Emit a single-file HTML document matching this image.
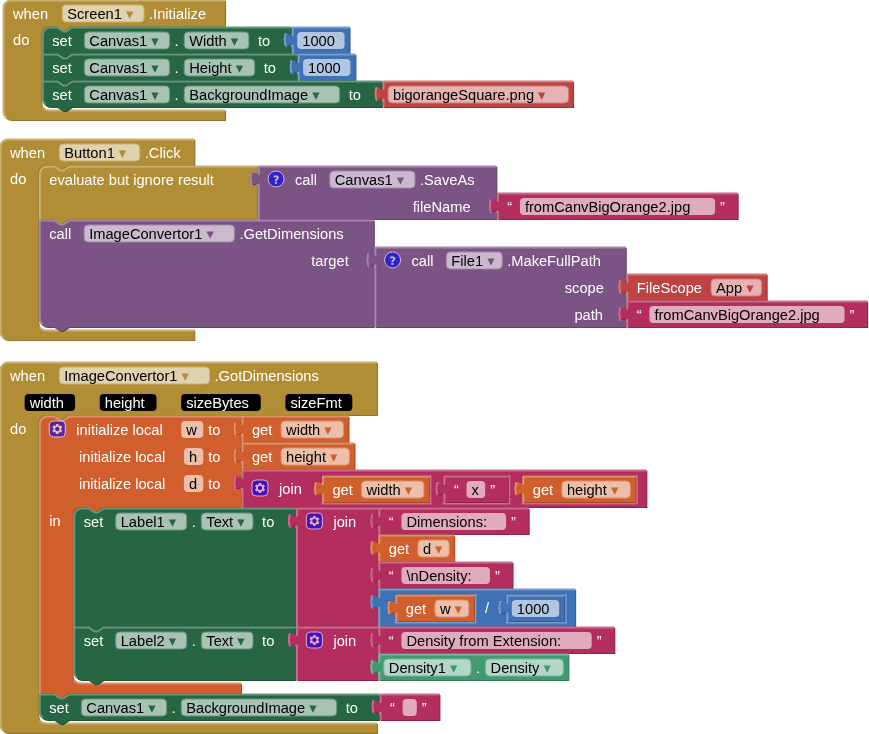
<!DOCTYPE html>
<html lang="en"><head><meta charset="utf-8"><title>Blocks</title>
<style>
html,body{margin:0;padding:0;background:#fff;}
svg{display:block;font-family:"Liberation Sans","DejaVu Sans",sans-serif;font-size:11pt;}
.h{fill:none;stroke-width:2;stroke-linecap:round;}
.t{fill:#fff;dominant-baseline:central;white-space:pre;}
.e{fill:#000;dominant-baseline:central;white-space:pre;}
.r{fill:#fff;fill-opacity:.6;}
.p{fill:#000;}
.ic{opacity:.6;}
.is{fill:#00f;stroke:#fff;stroke-width:1px;}
.iy{fill:#fff;}
</style></head>
<body>
<svg width="869" height="734" viewBox="0 0 869 734">
<g transform="translate(3,0)">
<path class="d" fill="#8e722a" transform="translate(1,1)" d="M 0,8 A 8,8 0 0,1 8,0 H 222.094 V 22 V 26 H 68.283 l -6,4 -3,0 -6,-4 h -7 a 8,8 0 0,0 -8,8 v 68 a 8,8 0 0,0 8,8 H 222.094 V 120 H 8 a 8,8 0 0,1 -8,-8 z "/>
<path fill="#b18e35" d="M 0,8 A 8,8 0 0,1 8,0 H 222.094 V 22 V 26 H 68.283 l -6,4 -3,0 -6,-4 h -7 a 8,8 0 0,0 -8,8 v 68 a 8,8 0 0,0 8,8 H 222.094 V 120 H 8 a 8,8 0 0,1 -8,-8 z "/>
<path class="h" stroke="#c8b072" d="M 0.5,8 a 7.5,7.5 0 0,1 8,-7.5 H 221.594 M 40.273,108.01 a 8.5,8.5 0 0,0 6.01,2.49 H 221.594 M 2.697,117.303 a 7.5,7.5 0 0,1 -2.197,-5.303 V 8 "/>
<text class="t" x="10" y="13.5">when </text>
<rect class="r" stroke="#c8b072" x="59.272" y="5" width="81.779" height="17" rx="4" ry="4"/>
<text class="e" x="64.272" y="13.5">Screen1<tspan fill="#b18e35"> ▾</tspan></text>
<text class="t" x="146.051" y="13.5">.Initialize</text>
<text class="t" x="10" y="39.5">do</text>
<g transform="translate(39.283,27)">
<path class="d" fill="#1e5236" transform="translate(1,1)" d="M 0,8 A 8,8 0 0,1 8,0 H 15 l 6,4 3,0 6,-4 H 248.949 V 5 l -1.25,3.211 -2.75,-1.523 -2.75,-0.492 -1.25,6.305 1.25,6.305 2.75,-0.492 2.75,-1.523 1.25,3.211 v 2 V 26 H 29.5 l -6,4 -3,0 -6,-4 H 0 z "/>
<path fill="#266643" d="M 0,8 A 8,8 0 0,1 8,0 H 15 l 6,4 3,0 6,-4 H 248.949 V 5 l -1.25,3.211 -2.75,-1.523 -2.75,-0.492 -1.25,6.305 1.25,6.305 2.75,-0.492 2.75,-1.523 1.25,3.211 v 2 V 26 H 29.5 l -6,4 -3,0 -6,-4 H 0 z "/>
<path class="h" stroke="#67947b" d="M 0.5,8 a 7.5,7.5 0 0,1 8,-7.5 H 15 l 6,4 3,0 6,-4 H 248.449 M 243.949,19.3 l 3.68,-2.1 M 0.5,25.5 V 8 "/>
<text class="t" x="10" y="13.5">set </text>
<rect class="r" stroke="#67947b" x="42.077" y="5" width="85.188" height="17" rx="4" ry="4"/>
<text class="e" x="47.077" y="13.5">Canvas1<tspan fill="#266643"> ▾</tspan></text>
<text class="t" x="132.266" y="13.5">.</text>
<rect class="r" stroke="#67947b" x="141.928" y="5" width="64.635" height="17" rx="4" ry="4"/>
<text class="e" x="146.928" y="13.5">Width<tspan fill="#266643"> ▾</tspan></text>
<text class="t" x="211.562" y="13.5"> to</text>
<g transform="translate(249.949,0)">
<path class="d" fill="#325a91" transform="translate(1,1)" d="M 0,0 H 57.326 V 22 V 26 H 0 V 20 l -1.25,-3.211 -2.75,1.523 -2.75,0.492 -1.25,-6.305 1.25,-6.305 2.75,0.492 2.75,1.523 1.25,-3.211 z "/>
<path fill="#3f71b5" d="M 0,0 H 57.326 V 22 V 26 H 0 V 20 l -1.25,-3.211 -2.75,1.523 -2.75,0.492 -1.25,-6.305 1.25,-6.305 2.75,0.492 2.75,1.523 1.25,-3.211 z "/>
<path class="h" stroke="#799ccb" d="M 0.5,0.5 H 56.826 M 0.5,25.5 V 20 v -1.5 m -7.36,-0.5 l -0.76,-5.5 0.76,-5.5 m 7.36,1 V 0.5 "/>
<rect class="r" x="5" y="5" width="47.326" height="17" rx="4" ry="4"/>
<text class="e" x="10" y="13.5">1000</text>
</g>
<g transform="translate(0,27)">
<path class="d" fill="#1e5236" transform="translate(1,1)" d="M 0,0 H 15 l 6,4 3,0 6,-4 H 254.821 V 5 l -1.25,3.211 -2.75,-1.523 -2.75,-0.492 -1.25,6.305 1.25,6.305 2.75,-0.492 2.75,-1.523 1.25,3.211 v 2 V 26 H 29.5 l -6,4 -3,0 -6,-4 H 0 z "/>
<path fill="#266643" d="M 0,0 H 15 l 6,4 3,0 6,-4 H 254.821 V 5 l -1.25,3.211 -2.75,-1.523 -2.75,-0.492 -1.25,6.305 1.25,6.305 2.75,-0.492 2.75,-1.523 1.25,3.211 v 2 V 26 H 29.5 l -6,4 -3,0 -6,-4 H 0 z "/>
<path class="h" stroke="#67947b" d="M 0.5,0.5 H 15 l 6,4 3,0 6,-4 H 254.321 M 249.821,19.3 l 3.68,-2.1 M 0.5,25.5 V 0.5 "/>
<text class="t" x="10" y="13.5">set </text>
<rect class="r" stroke="#67947b" x="42.077" y="5" width="85.188" height="17" rx="4" ry="4"/>
<text class="e" x="47.077" y="13.5">Canvas1<tspan fill="#266643"> ▾</tspan></text>
<text class="t" x="132.266" y="13.5">.</text>
<rect class="r" stroke="#67947b" x="141.928" y="5" width="70.507" height="17" rx="4" ry="4"/>
<text class="e" x="146.928" y="13.5">Height<tspan fill="#266643"> ▾</tspan></text>
<text class="t" x="217.435" y="13.5"> to</text>
<g transform="translate(255.821,0)">
<path class="d" fill="#325a91" transform="translate(1,1)" d="M 0,0 H 57.326 V 22 V 26 H 0 V 20 l -1.25,-3.211 -2.75,1.523 -2.75,0.492 -1.25,-6.305 1.25,-6.305 2.75,0.492 2.75,1.523 1.25,-3.211 z "/>
<path fill="#3f71b5" d="M 0,0 H 57.326 V 22 V 26 H 0 V 20 l -1.25,-3.211 -2.75,1.523 -2.75,0.492 -1.25,-6.305 1.25,-6.305 2.75,0.492 2.75,1.523 1.25,-3.211 z "/>
<path class="h" stroke="#799ccb" d="M 0.5,0.5 H 56.826 M 0.5,25.5 V 20 v -1.5 m -7.36,-0.5 l -0.76,-5.5 0.76,-5.5 m 7.36,1 V 0.5 "/>
<rect class="r" x="5" y="5" width="47.326" height="17" rx="4" ry="4"/>
<text class="e" x="10" y="13.5">1000</text>
</g>
<g transform="translate(0,27)">
<path class="d" fill="#1e5236" transform="translate(1,1)" d="M 0,0 H 15 l 6,4 3,0 6,-4 H 339.77 V 5 l -1.25,3.211 -2.75,-1.523 -2.75,-0.492 -1.25,6.305 1.25,6.305 2.75,-0.492 2.75,-1.523 1.25,3.211 v 2 V 26 H 29.5 l -6,4 -3,0 -6,-4 H 8 a 8,8 0 0,1 -8,-8 z "/>
<path fill="#266643" d="M 0,0 H 15 l 6,4 3,0 6,-4 H 339.77 V 5 l -1.25,3.211 -2.75,-1.523 -2.75,-0.492 -1.25,6.305 1.25,6.305 2.75,-0.492 2.75,-1.523 1.25,3.211 v 2 V 26 H 29.5 l -6,4 -3,0 -6,-4 H 8 a 8,8 0 0,1 -8,-8 z "/>
<path class="h" stroke="#67947b" d="M 0.5,0.5 H 15 l 6,4 3,0 6,-4 H 339.27 M 334.77,19.3 l 3.68,-2.1 M 2.697,23.303 a 7.5,7.5 0 0,1 -2.197,-5.303 V 0.5 "/>
<text class="t" x="10" y="13.5">set </text>
<rect class="r" stroke="#67947b" x="42.077" y="5" width="85.188" height="17" rx="4" ry="4"/>
<text class="e" x="47.077" y="13.5">Canvas1<tspan fill="#266643"> ▾</tspan></text>
<text class="t" x="132.266" y="13.5">.</text>
<rect class="r" stroke="#67947b" x="141.928" y="5" width="155.456" height="17" rx="4" ry="4"/>
<text class="e" x="146.928" y="13.5">BackgroundImage<tspan fill="#266643"> ▾</tspan></text>
<text class="t" x="302.384" y="13.5"> to</text>
<g transform="translate(340.77,0)">
<path class="d" fill="#993636" transform="translate(1,1)" d="M 0,0 H 190.05 V 22 V 26 H 0 V 20 l -1.25,-3.211 -2.75,1.523 -2.75,0.492 -1.25,-6.305 1.25,-6.305 2.75,0.492 2.75,1.523 1.25,-3.211 z "/>
<path fill="#bf4343" d="M 0,0 H 190.05 V 22 V 26 H 0 V 20 l -1.25,-3.211 -2.75,1.523 -2.75,0.492 -1.25,-6.305 1.25,-6.305 2.75,0.492 2.75,1.523 1.25,-3.211 z "/>
<path class="h" stroke="#d27b7b" d="M 0.5,0.5 H 189.55 M 0.5,25.5 V 20 v -1.5 m -7.36,-0.5 l -0.76,-5.5 0.76,-5.5 m 7.36,1 V 0.5 "/>
<rect class="r" stroke="#d27b7b" x="5" y="5" width="180.45" height="17" rx="4" ry="4"/>
<text class="e" x="10" y="13.5">bigorangeSquare.png<tspan fill="#bf4343"> ▾</tspan></text>
</g>
</g>
</g>
</g>
</g>
<g transform="translate(0,139)">
<path class="d" fill="#8e722a" transform="translate(1,1)" d="M 0,8 A 8,8 0 0,1 8,0 H 194.365 V 22 V 26 H 68.283 l -6,4 -3,0 -6,-4 h -7 a 8,8 0 0,0 -8,8 v 149 a 8,8 0 0,0 8,8 H 194.365 V 201 H 8 a 8,8 0 0,1 -8,-8 z "/>
<path fill="#b18e35" d="M 0,8 A 8,8 0 0,1 8,0 H 194.365 V 22 V 26 H 68.283 l -6,4 -3,0 -6,-4 h -7 a 8,8 0 0,0 -8,8 v 149 a 8,8 0 0,0 8,8 H 194.365 V 201 H 8 a 8,8 0 0,1 -8,-8 z "/>
<path class="h" stroke="#c8b072" d="M 0.5,8 a 7.5,7.5 0 0,1 8,-7.5 H 193.865 M 40.273,189.01 a 8.5,8.5 0 0,0 6.01,2.49 H 193.865 M 2.697,198.303 a 7.5,7.5 0 0,1 -2.197,-5.303 V 8 "/>
<text class="t" x="10" y="13.5">when </text>
<rect class="r" stroke="#c8b072" x="59.272" y="5" width="80.483" height="17" rx="4" ry="4"/>
<text class="e" x="64.272" y="13.5">Button1<tspan fill="#b18e35"> ▾</tspan></text>
<text class="t" x="144.755" y="13.5">.Click</text>
<text class="t" x="10" y="39.5">do</text>
<g transform="translate(39.283,27)">
<path class="d" fill="#8e722a" transform="translate(1,1)" d="M 0,8 A 8,8 0 0,1 8,0 H 15 l 6,4 3,0 6,-4 H 218.044 V 5 l -1.25,3.211 -2.75,-1.523 -2.75,-0.492 -1.25,6.305 1.25,6.305 2.75,-0.492 2.75,-1.523 1.25,3.211 v 29 V 53 H 29.5 l -6,4 -3,0 -6,-4 H 0 z "/>
<path fill="#b18e35" d="M 0,8 A 8,8 0 0,1 8,0 H 15 l 6,4 3,0 6,-4 H 218.044 V 5 l -1.25,3.211 -2.75,-1.523 -2.75,-0.492 -1.25,6.305 1.25,6.305 2.75,-0.492 2.75,-1.523 1.25,3.211 v 29 V 53 H 29.5 l -6,4 -3,0 -6,-4 H 0 z "/>
<path class="h" stroke="#c8b072" d="M 0.5,8 a 7.5,7.5 0 0,1 8,-7.5 H 15 l 6,4 3,0 6,-4 H 217.544 M 213.044,19.3 l 3.68,-2.1 M 0.5,52.5 V 8 "/>
<text class="t" x="10" y="13.5">evaluate but ignore result</text>
<g transform="translate(219.044,0)">
<path class="d" fill="#63426a" transform="translate(1,1)" d="M 0,0 H 237.989 V 22 V 32 l -1.25,3.211 -2.75,-1.523 -2.75,-0.492 -1.25,6.305 1.25,6.305 2.75,-0.492 2.75,-1.523 1.25,3.211 v 2 V 53 H 0 V 20 l -1.25,-3.211 -2.75,1.523 -2.75,0.492 -1.25,-6.305 1.25,-6.305 2.75,0.492 2.75,1.523 1.25,-3.211 z "/>
<path fill="#7c5385" d="M 0,0 H 237.989 V 22 V 32 l -1.25,3.211 -2.75,-1.523 -2.75,-0.492 -1.25,6.305 1.25,6.305 2.75,-0.492 2.75,-1.523 1.25,3.211 v 2 V 53 H 0 V 20 l -1.25,-3.211 -2.75,1.523 -2.75,0.492 -1.25,-6.305 1.25,-6.305 2.75,0.492 2.75,1.523 1.25,-3.211 z "/>
<path class="h" stroke="#a387aa" d="M 0.5,0.5 H 237.489 M 232.989,46.3 l 3.68,-2.1 M 0.5,52.5 V 20 v -1.5 m -7.36,-0.5 l -0.76,-5.5 0.76,-5.5 m 7.36,1 V 0.5 "/>
<g class="ic" transform="translate(9.75,5)">
<circle class="is" r="8" cx="8" cy="8"/><path class="iy" d="m6.8,10h2c0.003,-0.617 0.271,-0.962 0.633,-1.266 2.875,-2.405 0.607,-5.534 -3.765,-3.874v1.7c3.12,-1.657 3.698,0.118 2.336,1.25 -1.201,0.998 -1.201,1.528 -1.204,2.19z"/><rect class="iy" x="6.8" y="10.78" width="2" height="2"/>
</g>
<text class="t" x="36.6" y="13.5">call </text>
<rect class="r" stroke="#a387aa" x="71.463" y="5" width="85.188" height="17" rx="4" ry="4"/>
<text class="e" x="76.463" y="13.5">Canvas1<tspan fill="#7c5385"> ▾</tspan></text>
<text class="t" x="161.651" y="13.5">.SaveAs</text>
<text class="t" x="154.383" y="40.5">fileName</text>
<g transform="translate(238.989,27)">
<path class="d" fill="#8f244b" transform="translate(1,1)" d="M 0,0 H 240.357 V 22 V 26 H 0 V 20 l -1.25,-3.211 -2.75,1.523 -2.75,0.492 -1.25,-6.305 1.25,-6.305 2.75,0.492 2.75,1.523 1.25,-3.211 z "/>
<path fill="#b32d5e" d="M 0,0 H 240.357 V 22 V 26 H 0 V 20 l -1.25,-3.211 -2.75,1.523 -2.75,0.492 -1.25,-6.305 1.25,-6.305 2.75,0.492 2.75,1.523 1.25,-3.211 z "/>
<path class="h" stroke="#ca6c8e" d="M 0.5,0.5 H 239.857 M 0.5,25.5 V 20 v -1.5 m -7.36,-0.5 l -0.76,-5.5 0.76,-5.5 m 7.36,1 V 0.5 "/>
<text class="t" x="10" y="13.5">“</text>
<rect class="r" x="22.598" y="5" width="195.161" height="17" rx="4" ry="4"/>
<text class="e" x="27.598" y="13.5">fromCanvBigOrange2.jpg</text>
<text class="t" x="222.759" y="13.5">”</text>
</g>
</g>
<g transform="translate(0,54)">
<path class="d" fill="#63426a" transform="translate(1,1)" d="M 0,0 H 15 l 6,4 3,0 6,-4 H 334.551 V 22 V 32 l -1.25,3.211 -2.75,-1.523 -2.75,-0.492 -1.25,6.305 1.25,6.305 2.75,-0.492 2.75,-1.523 1.25,3.211 v 56 V 107 H 29.5 l -6,4 -3,0 -6,-4 H 8 a 8,8 0 0,1 -8,-8 z "/>
<path fill="#7c5385" d="M 0,0 H 15 l 6,4 3,0 6,-4 H 334.551 V 22 V 32 l -1.25,3.211 -2.75,-1.523 -2.75,-0.492 -1.25,6.305 1.25,6.305 2.75,-0.492 2.75,-1.523 1.25,3.211 v 56 V 107 H 29.5 l -6,4 -3,0 -6,-4 H 8 a 8,8 0 0,1 -8,-8 z "/>
<path class="h" stroke="#a387aa" d="M 0.5,0.5 H 15 l 6,4 3,0 6,-4 H 334.051 M 329.551,46.3 l 3.68,-2.1 M 2.697,104.303 a 7.5,7.5 0 0,1 -2.197,-5.303 V 0.5 "/>
<text class="t" x="10" y="13.5">call </text>
<rect class="r" stroke="#a387aa" x="44.863" y="5" width="150.286" height="17" rx="4" ry="4"/>
<text class="e" x="49.863" y="13.5">ImageConvertor1<tspan fill="#7c5385"> ▾</tspan></text>
<text class="t" x="200.149" y="13.5">.GetDimensions</text>
<text class="t" x="271.957" y="40.5">target</text>
<g transform="translate(335.551,27)">
<path class="d" fill="#63426a" transform="translate(1,1)" d="M 0,0 H 250.958 V 22 V 32 l -1.25,3.211 -2.75,-1.523 -2.75,-0.492 -1.25,6.305 1.25,6.305 2.75,-0.492 2.75,-1.523 1.25,3.211 v 2 V 59 l -1.25,3.211 -2.75,-1.523 -2.75,-0.492 -1.25,6.305 1.25,6.305 2.75,-0.492 2.75,-1.523 1.25,3.211 v 2 V 80 H 0 V 20 l -1.25,-3.211 -2.75,1.523 -2.75,0.492 -1.25,-6.305 1.25,-6.305 2.75,0.492 2.75,1.523 1.25,-3.211 z "/>
<path fill="#7c5385" d="M 0,0 H 250.958 V 22 V 32 l -1.25,3.211 -2.75,-1.523 -2.75,-0.492 -1.25,6.305 1.25,6.305 2.75,-0.492 2.75,-1.523 1.25,3.211 v 2 V 59 l -1.25,3.211 -2.75,-1.523 -2.75,-0.492 -1.25,6.305 1.25,6.305 2.75,-0.492 2.75,-1.523 1.25,3.211 v 2 V 80 H 0 V 20 l -1.25,-3.211 -2.75,1.523 -2.75,0.492 -1.25,-6.305 1.25,-6.305 2.75,0.492 2.75,1.523 1.25,-3.211 z "/>
<path class="h" stroke="#a387aa" d="M 0.5,0.5 H 250.458 M 245.958,46.3 l 3.68,-2.1 M 245.958,73.3 l 3.68,-2.1 M 0.5,79.5 V 20 v -1.5 m -7.36,-0.5 l -0.76,-5.5 0.76,-5.5 m 7.36,1 V 0.5 "/>
<g class="ic" transform="translate(9.75,5)">
<circle class="is" r="8" cx="8" cy="8"/><path class="iy" d="m6.8,10h2c0.003,-0.617 0.271,-0.962 0.633,-1.266 2.875,-2.405 0.607,-5.534 -3.765,-3.874v1.7c3.12,-1.657 3.698,0.118 2.336,1.25 -1.201,0.998 -1.201,1.528 -1.204,2.19z"/><rect class="iy" x="6.8" y="10.78" width="2" height="2"/>
</g>
<text class="t" x="36.6" y="13.5">call </text>
<rect class="r" stroke="#a387aa" x="71.463" y="5" width="55.898" height="17" rx="4" ry="4"/>
<text class="e" x="76.463" y="13.5">File1<tspan fill="#7c5385"> ▾</tspan></text>
<text class="t" x="132.361" y="13.5">.MakeFullPath</text>
<text class="t" x="189.946" y="40.5">scope</text>
<text class="t" x="199.614" y="67.5">path</text>
<g transform="translate(251.958,27)">
<path class="d" fill="#993636" transform="translate(1,1)" d="M 0,0 H 139.9 V 22 V 26 H 0 V 20 l -1.25,-3.211 -2.75,1.523 -2.75,0.492 -1.25,-6.305 1.25,-6.305 2.75,0.492 2.75,1.523 1.25,-3.211 z "/>
<path fill="#bf4343" d="M 0,0 H 139.9 V 22 V 26 H 0 V 20 l -1.25,-3.211 -2.75,1.523 -2.75,0.492 -1.25,-6.305 1.25,-6.305 2.75,0.492 2.75,1.523 1.25,-3.211 z "/>
<path class="h" stroke="#d27b7b" d="M 0.5,0.5 H 139.4 M 0.5,25.5 V 20 v -1.5 m -7.36,-0.5 l -0.76,-5.5 0.76,-5.5 m 7.36,1 V 0.5 "/>
<text class="t" x="10" y="13.5">FileScope</text>
<rect class="r" stroke="#d27b7b" x="84.223" y="5" width="50.677" height="17" rx="4" ry="4"/>
<text class="e" x="89.223" y="13.5">App<tspan fill="#bf4343"> ▾</tspan></text>
</g>
<g transform="translate(251.958,54)">
<path class="d" fill="#8f244b" transform="translate(1,1)" d="M 0,0 H 240.357 V 22 V 26 H 0 V 20 l -1.25,-3.211 -2.75,1.523 -2.75,0.492 -1.25,-6.305 1.25,-6.305 2.75,0.492 2.75,1.523 1.25,-3.211 z "/>
<path fill="#b32d5e" d="M 0,0 H 240.357 V 22 V 26 H 0 V 20 l -1.25,-3.211 -2.75,1.523 -2.75,0.492 -1.25,-6.305 1.25,-6.305 2.75,0.492 2.75,1.523 1.25,-3.211 z "/>
<path class="h" stroke="#ca6c8e" d="M 0.5,0.5 H 239.857 M 0.5,25.5 V 20 v -1.5 m -7.36,-0.5 l -0.76,-5.5 0.76,-5.5 m 7.36,1 V 0.5 "/>
<text class="t" x="10" y="13.5">“</text>
<rect class="r" x="22.598" y="5" width="195.161" height="17" rx="4" ry="4"/>
<text class="e" x="27.598" y="13.5">fromCanvBigOrange2.jpg</text>
<text class="t" x="222.759" y="13.5">”</text>
</g>
</g>
</g>
</g>
</g>
<g transform="translate(0,362)">
<path class="d" fill="#8e722a" transform="translate(1,1)" d="M 0,8 A 8,8 0 0,1 8,0 H 376.994 V 22 V 49 V 53 H 68.283 l -6,4 -3,0 -6,-4 h -7 a 8,8 0 0,0 -8,8 v 292 a 8,8 0 0,0 8,8 H 376.994 V 371 H 8 a 8,8 0 0,1 -8,-8 z "/>
<path fill="#b18e35" d="M 0,8 A 8,8 0 0,1 8,0 H 376.994 V 22 V 49 V 53 H 68.283 l -6,4 -3,0 -6,-4 h -7 a 8,8 0 0,0 -8,8 v 292 a 8,8 0 0,0 8,8 H 376.994 V 371 H 8 a 8,8 0 0,1 -8,-8 z "/>
<path class="h" stroke="#c8b072" d="M 0.5,8 a 7.5,7.5 0 0,1 8,-7.5 H 376.494 M 40.273,359.01 a 8.5,8.5 0 0,0 6.01,2.49 H 376.494 M 2.697,368.303 a 7.5,7.5 0 0,1 -2.197,-5.303 V 8 "/>
<text class="t" x="10" y="13.5">when </text>
<rect class="r" stroke="#c8b072" x="59.272" y="5" width="150.286" height="17" rx="4" ry="4"/>
<text class="e" x="64.272" y="13.5">ImageConvertor1<tspan fill="#b18e35"> ▾</tspan></text>
<text class="t" x="214.558" y="13.5">.GotDimensions</text>
<text class="t" x="10" y="40.5"> </text>
<rect class="p" x="24.662" y="32" width="50.426" height="17" rx="4" ry="4"/>
<text class="t" x="29.662" y="40.5">width</text>
<text class="t" x="85.089" y="40.5"> </text>
<rect class="p" x="99.751" y="32" width="56.75" height="17" rx="4" ry="4"/>
<text class="t" x="104.751" y="40.5">height</text>
<text class="t" x="166.501" y="40.5"> </text>
<rect class="p" x="181.163" y="32" width="79.595" height="17" rx="4" ry="4"/>
<text class="t" x="186.163" y="40.5">sizeBytes</text>
<text class="t" x="270.758" y="40.5"> </text>
<rect class="p" x="285.42" y="32" width="66.912" height="17" rx="4" ry="4"/>
<text class="t" x="290.42" y="40.5">sizeFmt</text>
<text class="t" x="362.332" y="40.5"> </text>
<text class="t" x="10" y="66.5">do</text>
<g transform="translate(39.283,54)">
<path class="d" fill="#a64c24" transform="translate(1,1)" d="M 0,8 A 8,8 0 0,1 8,0 H 15 l 6,4 3,0 6,-4 H 201.686 V 5 l -1.25,3.211 -2.75,-1.523 -2.75,-0.492 -1.25,6.305 1.25,6.305 2.75,-0.492 2.75,-1.523 1.25,3.211 v 2 V 32 l -1.25,3.211 -2.75,-1.523 -2.75,-0.492 -1.25,6.305 1.25,6.305 2.75,-0.492 2.75,-1.523 1.25,3.211 v 2 V 59 l -1.25,3.211 -2.75,-1.523 -2.75,-0.492 -1.25,6.305 1.25,6.305 2.75,-0.492 2.75,-1.523 1.25,3.211 v 13 V 91 H 63.37 l -6,4 -3,0 -6,-4 h -7 a 8,8 0 0,0 -8,8 v 160 a 8,8 0 0,0 8,8 H 201.686 V 277 H 29.5 l -6,4 -3,0 -6,-4 H 0 z "/>
<path fill="#d05f2d" d="M 0,8 A 8,8 0 0,1 8,0 H 15 l 6,4 3,0 6,-4 H 201.686 V 5 l -1.25,3.211 -2.75,-1.523 -2.75,-0.492 -1.25,6.305 1.25,6.305 2.75,-0.492 2.75,-1.523 1.25,3.211 v 2 V 32 l -1.25,3.211 -2.75,-1.523 -2.75,-0.492 -1.25,6.305 1.25,6.305 2.75,-0.492 2.75,-1.523 1.25,3.211 v 2 V 59 l -1.25,3.211 -2.75,-1.523 -2.75,-0.492 -1.25,6.305 1.25,6.305 2.75,-0.492 2.75,-1.523 1.25,3.211 v 13 V 91 H 63.37 l -6,4 -3,0 -6,-4 h -7 a 8,8 0 0,0 -8,8 v 160 a 8,8 0 0,0 8,8 H 201.686 V 277 H 29.5 l -6,4 -3,0 -6,-4 H 0 z "/>
<path class="h" stroke="#de8f6c" d="M 0.5,8 a 7.5,7.5 0 0,1 8,-7.5 H 15 l 6,4 3,0 6,-4 H 201.186 M 196.686,19.3 l 3.68,-2.1 M 196.686,46.3 l 3.68,-2.1 M 196.686,73.3 l 3.68,-2.1 M 35.36,265.01 a 8.5,8.5 0 0,0 6.01,2.49 H 201.186 M 0.5,276.5 V 8 "/>
<g class="ic" transform="translate(10,5)">
<rect class="is" rx="4" ry="4" width="16" height="16"/><path class="iy" d="m4.203,7.296 0,1.368 -0.92,0.677 -0.11,0.41 0.9,1.559 0.41,0.11 1.043,-0.457 1.187,0.683 0.127,1.134 0.3,0.3 1.8,0 0.3,-0.299 0.127,-1.138 1.185,-0.682 1.046,0.458 0.409,-0.11 0.9,-1.559 -0.11,-0.41 -0.92,-0.677 0,-1.366 0.92,-0.677 0.11,-0.41 -0.9,-1.559 -0.409,-0.109 -1.046,0.458 -1.185,-0.682 -0.127,-1.138 -0.3,-0.299 -1.8,0 -0.3,0.3 -0.126,1.135 -1.187,0.682 -1.043,-0.457 -0.41,0.11 -0.899,1.559 0.108,0.409z"/><circle class="is" r="2.7" cx="8" cy="8"/>
</g>
<text class="t" x="37" y="13.5">initialize local</text>
<rect class="r" x="141.967" y="5" width="21.995" height="17" rx="4" ry="4"/>
<text class="e" x="146.967" y="13.5">w</text>
<text class="t" x="168.962" y="13.5">to</text>
<text class="t" x="39.7" y="40.5">initialize local</text>
<rect class="r" x="144.667" y="32" width="19.296" height="17" rx="4" ry="4"/>
<text class="e" x="149.667" y="40.5">h</text>
<text class="t" x="168.962" y="40.5">to</text>
<text class="t" x="39.686" y="67.5">initialize local</text>
<rect class="r" x="144.652" y="59" width="19.31" height="17" rx="4" ry="4"/>
<text class="e" x="149.652" y="67.5">d</text>
<text class="t" x="168.962" y="67.5">to</text>
<text class="t" x="10" y="104.5">in</text>
<g transform="translate(202.686,0)">
<path class="d" fill="#a64c24" transform="translate(1,1)" d="M 0,0 H 106.535 V 22 V 26 H 0 V 20 l -1.25,-3.211 -2.75,1.523 -2.75,0.492 -1.25,-6.305 1.25,-6.305 2.75,0.492 2.75,1.523 1.25,-3.211 z "/>
<path fill="#d05f2d" d="M 0,0 H 106.535 V 22 V 26 H 0 V 20 l -1.25,-3.211 -2.75,1.523 -2.75,0.492 -1.25,-6.305 1.25,-6.305 2.75,0.492 2.75,1.523 1.25,-3.211 z "/>
<path class="h" stroke="#de8f6c" d="M 0.5,0.5 H 106.035 M 0.5,25.5 V 20 v -1.5 m -7.36,-0.5 l -0.76,-5.5 0.76,-5.5 m 7.36,1 V 0.5 "/>
<text class="t" x="10" y="13.5">get</text>
<rect class="r" stroke="#de8f6c" x="39.084" y="5" width="62.451" height="17" rx="4" ry="4"/>
<text class="e" x="44.084" y="13.5">width<tspan fill="#d05f2d"> ▾</tspan></text>
</g>
<g transform="translate(202.686,27)">
<path class="d" fill="#a64c24" transform="translate(1,1)" d="M 0,0 H 112.558 V 22 V 26 H 0 V 20 l -1.25,-3.211 -2.75,1.523 -2.75,0.492 -1.25,-6.305 1.25,-6.305 2.75,0.492 2.75,1.523 1.25,-3.211 z "/>
<path fill="#d05f2d" d="M 0,0 H 112.558 V 22 V 26 H 0 V 20 l -1.25,-3.211 -2.75,1.523 -2.75,0.492 -1.25,-6.305 1.25,-6.305 2.75,0.492 2.75,1.523 1.25,-3.211 z "/>
<path class="h" stroke="#de8f6c" d="M 0.5,0.5 H 112.058 M 0.5,25.5 V 20 v -1.5 m -7.36,-0.5 l -0.76,-5.5 0.76,-5.5 m 7.36,1 V 0.5 "/>
<text class="t" x="10" y="13.5">get</text>
<rect class="r" stroke="#de8f6c" x="39.084" y="5" width="68.474" height="17" rx="4" ry="4"/>
<text class="e" x="44.084" y="13.5">height<tspan fill="#d05f2d"> ▾</tspan></text>
</g>
<g transform="translate(202.686,54)">
<path class="d" fill="#8f244b" transform="translate(1,1)" d="M 0,0 H 404.387 V 33 V 37 H 0 V 20 l -1.25,-3.211 -2.75,1.523 -2.75,0.492 -1.25,-6.305 1.25,-6.305 2.75,0.492 2.75,1.523 1.25,-3.211 z M 79.419,5 v 5 l -1.25,3.211 -2.75,-1.523 -2.75,-0.492 -1.25,6.305 1.25,6.305 2.75,-0.492 2.75,-1.523 1.25,3.211 v 8 h 108.535 v -28 z M 200.953,5 v 5 l -1.25,3.211 -2.75,-1.523 -2.75,-0.492 -1.25,6.305 1.25,6.305 2.75,-0.492 2.75,-1.523 1.25,3.211 v 8 h 65.876 v -28 z M 279.829,5 v 5 l -1.25,3.211 -2.75,-1.523 -2.75,-0.492 -1.25,6.305 1.25,6.305 2.75,-0.492 2.75,-1.523 1.25,3.211 v 8 h 114.558 v -28 z"/>
<path fill="#b32d5e" d="M 0,0 H 404.387 V 33 V 37 H 0 V 20 l -1.25,-3.211 -2.75,1.523 -2.75,0.492 -1.25,-6.305 1.25,-6.305 2.75,0.492 2.75,1.523 1.25,-3.211 z M 79.419,5 v 5 l -1.25,3.211 -2.75,-1.523 -2.75,-0.492 -1.25,6.305 1.25,6.305 2.75,-0.492 2.75,-1.523 1.25,3.211 v 8 h 108.535 v -28 z M 200.953,5 v 5 l -1.25,3.211 -2.75,-1.523 -2.75,-0.492 -1.25,6.305 1.25,6.305 2.75,-0.492 2.75,-1.523 1.25,3.211 v 8 h 65.876 v -28 z M 279.829,5 v 5 l -1.25,3.211 -2.75,-1.523 -2.75,-0.492 -1.25,6.305 1.25,6.305 2.75,-0.492 2.75,-1.523 1.25,3.211 v 8 h 114.558 v -28 z"/>
<path class="h" stroke="#ca6c8e" d="M 0.5,0.5 H 403.887 M 0.5,36.5 V 20 v -1.5 m -7.36,-0.5 l -0.76,-5.5 0.76,-5.5 m 7.36,1 V 0.5 M 188.453,5.5 v 28 h -108.535 M 74.419,24.3 l 3.68,-2.1 M 267.329,5.5 v 28 h -65.876 M 195.953,24.3 l 3.68,-2.1 M 394.887,5.5 v 28 h -114.558 M 274.829,24.3 l 3.68,-2.1"/>
<g class="ic" transform="translate(10,10)">
<rect class="is" rx="4" ry="4" width="16" height="16"/><path class="iy" d="m4.203,7.296 0,1.368 -0.92,0.677 -0.11,0.41 0.9,1.559 0.41,0.11 1.043,-0.457 1.187,0.683 0.127,1.134 0.3,0.3 1.8,0 0.3,-0.299 0.127,-1.138 1.185,-0.682 1.046,0.458 0.409,-0.11 0.9,-1.559 -0.11,-0.41 -0.92,-0.677 0,-1.366 0.92,-0.677 0.11,-0.41 -0.9,-1.559 -0.409,-0.109 -1.046,0.458 -1.185,-0.682 -0.127,-1.138 -0.3,-0.299 -1.8,0 -0.3,0.3 -0.126,1.135 -1.187,0.682 -1.043,-0.457 -0.41,0.11 -0.899,1.559 0.108,0.409z"/><circle class="is" r="2.7" cx="8" cy="8"/>
</g>
<text class="t" x="37" y="18.5">join</text>
<g transform="translate(80.419,6)">
<path class="d" fill="#a64c24" transform="translate(1,1)" d="M 0,0 H 106.535 V 22 V 26 H 0 V 20 l -1.25,-3.211 -2.75,1.523 -2.75,0.492 -1.25,-6.305 1.25,-6.305 2.75,0.492 2.75,1.523 1.25,-3.211 z "/>
<path fill="#d05f2d" d="M 0,0 H 106.535 V 22 V 26 H 0 V 20 l -1.25,-3.211 -2.75,1.523 -2.75,0.492 -1.25,-6.305 1.25,-6.305 2.75,0.492 2.75,1.523 1.25,-3.211 z "/>
<path class="h" stroke="#de8f6c" d="M 0.5,0.5 H 106.035 M 0.5,25.5 V 20 v -1.5 m -7.36,-0.5 l -0.76,-5.5 0.76,-5.5 m 7.36,1 V 0.5 "/>
<text class="t" x="10" y="13.5">get</text>
<rect class="r" stroke="#de8f6c" x="39.084" y="5" width="62.451" height="17" rx="4" ry="4"/>
<text class="e" x="44.084" y="13.5">width<tspan fill="#d05f2d"> ▾</tspan></text>
</g>
<g transform="translate(201.953,6)">
<path class="d" fill="#8f244b" transform="translate(1,1)" d="M 0,0 H 63.876 V 22 V 26 H 0 V 20 l -1.25,-3.211 -2.75,1.523 -2.75,0.492 -1.25,-6.305 1.25,-6.305 2.75,0.492 2.75,1.523 1.25,-3.211 z "/>
<path fill="#b32d5e" d="M 0,0 H 63.876 V 22 V 26 H 0 V 20 l -1.25,-3.211 -2.75,1.523 -2.75,0.492 -1.25,-6.305 1.25,-6.305 2.75,0.492 2.75,1.523 1.25,-3.211 z "/>
<path class="h" stroke="#ca6c8e" d="M 0.5,0.5 H 63.376 M 0.5,25.5 V 20 v -1.5 m -7.36,-0.5 l -0.76,-5.5 0.76,-5.5 m 7.36,1 V 0.5 "/>
<text class="t" x="10" y="13.5">“</text>
<rect class="r" x="22.598" y="5" width="18.68" height="17" rx="4" ry="4"/>
<text class="e" x="27.598" y="13.5">x</text>
<text class="t" x="46.278" y="13.5">”</text>
</g>
<g transform="translate(280.829,6)">
<path class="d" fill="#a64c24" transform="translate(1,1)" d="M 0,0 H 112.558 V 22 V 26 H 0 V 20 l -1.25,-3.211 -2.75,1.523 -2.75,0.492 -1.25,-6.305 1.25,-6.305 2.75,0.492 2.75,1.523 1.25,-3.211 z "/>
<path fill="#d05f2d" d="M 0,0 H 112.558 V 22 V 26 H 0 V 20 l -1.25,-3.211 -2.75,1.523 -2.75,0.492 -1.25,-6.305 1.25,-6.305 2.75,0.492 2.75,1.523 1.25,-3.211 z "/>
<path class="h" stroke="#de8f6c" d="M 0.5,0.5 H 112.058 M 0.5,25.5 V 20 v -1.5 m -7.36,-0.5 l -0.76,-5.5 0.76,-5.5 m 7.36,1 V 0.5 "/>
<text class="t" x="10" y="13.5">get</text>
<rect class="r" stroke="#de8f6c" x="39.084" y="5" width="68.474" height="17" rx="4" ry="4"/>
<text class="e" x="44.084" y="13.5">height<tspan fill="#d05f2d"> ▾</tspan></text>
</g>
</g>
<g transform="translate(34.37,92)">
<path class="d" fill="#1e5236" transform="translate(1,1)" d="M 0,8 A 8,8 0 0,1 8,0 H 15 l 6,4 3,0 6,-4 H 221.735 V 5 l -1.25,3.211 -2.75,-1.523 -2.75,-0.492 -1.25,6.305 1.25,6.305 2.75,-0.492 2.75,-1.523 1.25,3.211 v 94 V 118 H 29.5 l -6,4 -3,0 -6,-4 H 0 z "/>
<path fill="#266643" d="M 0,8 A 8,8 0 0,1 8,0 H 15 l 6,4 3,0 6,-4 H 221.735 V 5 l -1.25,3.211 -2.75,-1.523 -2.75,-0.492 -1.25,6.305 1.25,6.305 2.75,-0.492 2.75,-1.523 1.25,3.211 v 94 V 118 H 29.5 l -6,4 -3,0 -6,-4 H 0 z "/>
<path class="h" stroke="#67947b" d="M 0.5,8 a 7.5,7.5 0 0,1 8,-7.5 H 15 l 6,4 3,0 6,-4 H 221.235 M 216.735,19.3 l 3.68,-2.1 M 0.5,117.5 V 8 "/>
<text class="t" x="10" y="13.5">set </text>
<rect class="r" stroke="#67947b" x="42.077" y="5" width="70.923" height="17" rx="4" ry="4"/>
<text class="e" x="47.077" y="13.5">Label1<tspan fill="#266643"> ▾</tspan></text>
<text class="t" x="118" y="13.5">.</text>
<rect class="r" stroke="#67947b" x="127.662" y="5" width="51.687" height="17" rx="4" ry="4"/>
<text class="e" x="132.662" y="13.5">Text<tspan fill="#266643"> ▾</tspan></text>
<text class="t" x="184.349" y="13.5"> to</text>
<g transform="translate(222.735,0)">
<path class="d" fill="#8f244b" transform="translate(1,1)" d="M 0,0 H 81.419 V 5 l -1.25,3.211 -2.75,-1.523 -2.75,-0.492 -1.25,6.305 1.25,6.305 2.75,-0.492 2.75,-1.523 1.25,3.211 v 2 V 32 l -1.25,3.211 -2.75,-1.523 -2.75,-0.492 -1.25,6.305 1.25,6.305 2.75,-0.492 2.75,-1.523 1.25,3.211 v 2 V 59 l -1.25,3.211 -2.75,-1.523 -2.75,-0.492 -1.25,6.305 1.25,6.305 2.75,-0.492 2.75,-1.523 1.25,3.211 v 2 V 86 l -1.25,3.211 -2.75,-1.523 -2.75,-0.492 -1.25,6.305 1.25,6.305 2.75,-0.492 2.75,-1.523 1.25,3.211 v 13 V 118 H 0 V 20 l -1.25,-3.211 -2.75,1.523 -2.75,0.492 -1.25,-6.305 1.25,-6.305 2.75,0.492 2.75,1.523 1.25,-3.211 z "/>
<path fill="#b32d5e" d="M 0,0 H 81.419 V 5 l -1.25,3.211 -2.75,-1.523 -2.75,-0.492 -1.25,6.305 1.25,6.305 2.75,-0.492 2.75,-1.523 1.25,3.211 v 2 V 32 l -1.25,3.211 -2.75,-1.523 -2.75,-0.492 -1.25,6.305 1.25,6.305 2.75,-0.492 2.75,-1.523 1.25,3.211 v 2 V 59 l -1.25,3.211 -2.75,-1.523 -2.75,-0.492 -1.25,6.305 1.25,6.305 2.75,-0.492 2.75,-1.523 1.25,3.211 v 2 V 86 l -1.25,3.211 -2.75,-1.523 -2.75,-0.492 -1.25,6.305 1.25,6.305 2.75,-0.492 2.75,-1.523 1.25,3.211 v 13 V 118 H 0 V 20 l -1.25,-3.211 -2.75,1.523 -2.75,0.492 -1.25,-6.305 1.25,-6.305 2.75,0.492 2.75,1.523 1.25,-3.211 z "/>
<path class="h" stroke="#ca6c8e" d="M 0.5,0.5 H 80.919 M 76.419,19.3 l 3.68,-2.1 M 76.419,46.3 l 3.68,-2.1 M 76.419,73.3 l 3.68,-2.1 M 76.419,100.3 l 3.68,-2.1 M 0.5,117.5 V 20 v -1.5 m -7.36,-0.5 l -0.76,-5.5 0.76,-5.5 m 7.36,1 V 0.5 "/>
<g class="ic" transform="translate(10,5)">
<rect class="is" rx="4" ry="4" width="16" height="16"/><path class="iy" d="m4.203,7.296 0,1.368 -0.92,0.677 -0.11,0.41 0.9,1.559 0.41,0.11 1.043,-0.457 1.187,0.683 0.127,1.134 0.3,0.3 1.8,0 0.3,-0.299 0.127,-1.138 1.185,-0.682 1.046,0.458 0.409,-0.11 0.9,-1.559 -0.11,-0.41 -0.92,-0.677 0,-1.366 0.92,-0.677 0.11,-0.41 -0.9,-1.559 -0.409,-0.109 -1.046,0.458 -1.185,-0.682 -0.127,-1.138 -0.3,-0.299 -1.8,0 -0.3,0.3 -0.126,1.135 -1.187,0.682 -1.043,-0.457 -0.41,0.11 -0.899,1.559 0.108,0.409z"/><circle class="is" r="2.7" cx="8" cy="8"/>
</g>
<text class="t" x="37" y="13.5">join</text>
<g transform="translate(82.419,0)">
<path class="d" fill="#8f244b" transform="translate(1,1)" d="M 0,0 H 149.901 V 22 V 26 H 0 V 20 l -1.25,-3.211 -2.75,1.523 -2.75,0.492 -1.25,-6.305 1.25,-6.305 2.75,0.492 2.75,1.523 1.25,-3.211 z "/>
<path fill="#b32d5e" d="M 0,0 H 149.901 V 22 V 26 H 0 V 20 l -1.25,-3.211 -2.75,1.523 -2.75,0.492 -1.25,-6.305 1.25,-6.305 2.75,0.492 2.75,1.523 1.25,-3.211 z "/>
<path class="h" stroke="#ca6c8e" d="M 0.5,0.5 H 149.401 M 0.5,25.5 V 20 v -1.5 m -7.36,-0.5 l -0.76,-5.5 0.76,-5.5 m 7.36,1 V 0.5 "/>
<text class="t" x="10" y="13.5">“</text>
<rect class="r" x="22.598" y="5" width="104.704" height="17" rx="4" ry="4"/>
<text class="e" x="27.598" y="13.5">Dimensions: </text>
<text class="t" x="132.303" y="13.5">”</text>
</g>
<g transform="translate(82.419,27)">
<path class="d" fill="#a64c24" transform="translate(1,1)" d="M 0,0 H 75.418 V 22 V 26 H 0 V 20 l -1.25,-3.211 -2.75,1.523 -2.75,0.492 -1.25,-6.305 1.25,-6.305 2.75,0.492 2.75,1.523 1.25,-3.211 z "/>
<path fill="#d05f2d" d="M 0,0 H 75.418 V 22 V 26 H 0 V 20 l -1.25,-3.211 -2.75,1.523 -2.75,0.492 -1.25,-6.305 1.25,-6.305 2.75,0.492 2.75,1.523 1.25,-3.211 z "/>
<path class="h" stroke="#de8f6c" d="M 0.5,0.5 H 74.918 M 0.5,25.5 V 20 v -1.5 m -7.36,-0.5 l -0.76,-5.5 0.76,-5.5 m 7.36,1 V 0.5 "/>
<text class="t" x="10" y="13.5">get</text>
<rect class="r" stroke="#de8f6c" x="39.084" y="5" width="31.334" height="17" rx="4" ry="4"/>
<text class="e" x="44.084" y="13.5">d<tspan fill="#d05f2d"> ▾</tspan></text>
</g>
<g transform="translate(82.419,54)">
<path class="d" fill="#8f244b" transform="translate(1,1)" d="M 0,0 H 133.729 V 22 V 26 H 0 V 20 l -1.25,-3.211 -2.75,1.523 -2.75,0.492 -1.25,-6.305 1.25,-6.305 2.75,0.492 2.75,1.523 1.25,-3.211 z "/>
<path fill="#b32d5e" d="M 0,0 H 133.729 V 22 V 26 H 0 V 20 l -1.25,-3.211 -2.75,1.523 -2.75,0.492 -1.25,-6.305 1.25,-6.305 2.75,0.492 2.75,1.523 1.25,-3.211 z "/>
<path class="h" stroke="#ca6c8e" d="M 0.5,0.5 H 133.229 M 0.5,25.5 V 20 v -1.5 m -7.36,-0.5 l -0.76,-5.5 0.76,-5.5 m 7.36,1 V 0.5 "/>
<text class="t" x="10" y="13.5">“</text>
<rect class="r" x="22.598" y="5" width="88.533" height="17" rx="4" ry="4"/>
<text class="e" x="27.598" y="13.5">\nDensity: </text>
<text class="t" x="116.131" y="13.5">”</text>
</g>
<g transform="translate(82.419,81)">
<path class="d" fill="#325a91" transform="translate(1,1)" d="M 0,0 H 196.37 V 33 V 37 H 0 V 20 l -1.25,-3.211 -2.75,1.523 -2.75,0.492 -1.25,-6.305 1.25,-6.305 2.75,0.492 2.75,1.523 1.25,-3.211 z M 16,5 v 5 l -1.25,3.211 -2.75,-1.523 -2.75,-0.492 -1.25,6.305 1.25,6.305 2.75,-0.492 2.75,-1.523 1.25,3.211 v 8 h 80.104 v -28 z M 127.045,5 v 5 l -1.25,3.211 -2.75,-1.523 -2.75,-0.492 -1.25,6.305 1.25,6.305 2.75,-0.492 2.75,-1.523 1.25,3.211 v 8 h 59.326 v -28 z"/>
<path fill="#3f71b5" d="M 0,0 H 196.37 V 33 V 37 H 0 V 20 l -1.25,-3.211 -2.75,1.523 -2.75,0.492 -1.25,-6.305 1.25,-6.305 2.75,0.492 2.75,1.523 1.25,-3.211 z M 16,5 v 5 l -1.25,3.211 -2.75,-1.523 -2.75,-0.492 -1.25,6.305 1.25,6.305 2.75,-0.492 2.75,-1.523 1.25,3.211 v 8 h 80.104 v -28 z M 127.045,5 v 5 l -1.25,3.211 -2.75,-1.523 -2.75,-0.492 -1.25,6.305 1.25,6.305 2.75,-0.492 2.75,-1.523 1.25,3.211 v 8 h 59.326 v -28 z"/>
<path class="h" stroke="#799ccb" d="M 0.5,0.5 H 195.87 M 0.5,36.5 V 20 v -1.5 m -7.36,-0.5 l -0.76,-5.5 0.76,-5.5 m 7.36,1 V 0.5 M 96.604,5.5 v 28 h -80.104 M 11,24.3 l 3.68,-2.1 M 186.87,5.5 v 28 h -59.326 M 122.045,24.3 l 3.68,-2.1"/>
<text class="t" x="106.104" y="18.5">/</text>
<g transform="translate(17,6)">
<path class="d" fill="#a64c24" transform="translate(1,1)" d="M 0,0 H 78.104 V 22 V 26 H 0 V 20 l -1.25,-3.211 -2.75,1.523 -2.75,0.492 -1.25,-6.305 1.25,-6.305 2.75,0.492 2.75,1.523 1.25,-3.211 z "/>
<path fill="#d05f2d" d="M 0,0 H 78.104 V 22 V 26 H 0 V 20 l -1.25,-3.211 -2.75,1.523 -2.75,0.492 -1.25,-6.305 1.25,-6.305 2.75,0.492 2.75,1.523 1.25,-3.211 z "/>
<path class="h" stroke="#de8f6c" d="M 0.5,0.5 H 77.604 M 0.5,25.5 V 20 v -1.5 m -7.36,-0.5 l -0.76,-5.5 0.76,-5.5 m 7.36,1 V 0.5 "/>
<text class="t" x="10" y="13.5">get</text>
<rect class="r" stroke="#de8f6c" x="39.084" y="5" width="34.02" height="17" rx="4" ry="4"/>
<text class="e" x="44.084" y="13.5">w<tspan fill="#d05f2d"> ▾</tspan></text>
</g>
<g transform="translate(128.045,6)">
<path class="d" fill="#325a91" transform="translate(1,1)" d="M 0,0 H 57.326 V 22 V 26 H 0 V 20 l -1.25,-3.211 -2.75,1.523 -2.75,0.492 -1.25,-6.305 1.25,-6.305 2.75,0.492 2.75,1.523 1.25,-3.211 z "/>
<path fill="#3f71b5" d="M 0,0 H 57.326 V 22 V 26 H 0 V 20 l -1.25,-3.211 -2.75,1.523 -2.75,0.492 -1.25,-6.305 1.25,-6.305 2.75,0.492 2.75,1.523 1.25,-3.211 z "/>
<path class="h" stroke="#799ccb" d="M 0.5,0.5 H 56.826 M 0.5,25.5 V 20 v -1.5 m -7.36,-0.5 l -0.76,-5.5 0.76,-5.5 m 7.36,1 V 0.5 "/>
<rect class="r" x="5" y="5" width="47.326" height="17" rx="4" ry="4"/>
<text class="e" x="10" y="13.5">1000</text>
</g>
</g>
</g>
<g transform="translate(0,119)">
<path class="d" fill="#1e5236" transform="translate(1,1)" d="M 0,0 H 15 l 6,4 3,0 6,-4 H 221.735 V 5 l -1.25,3.211 -2.75,-1.523 -2.75,-0.492 -1.25,6.305 1.25,6.305 2.75,-0.492 2.75,-1.523 1.25,3.211 v 29 V 53 H 29.5 l -6,4 -3,0 -6,-4 H 8 a 8,8 0 0,1 -8,-8 z "/>
<path fill="#266643" d="M 0,0 H 15 l 6,4 3,0 6,-4 H 221.735 V 5 l -1.25,3.211 -2.75,-1.523 -2.75,-0.492 -1.25,6.305 1.25,6.305 2.75,-0.492 2.75,-1.523 1.25,3.211 v 29 V 53 H 29.5 l -6,4 -3,0 -6,-4 H 8 a 8,8 0 0,1 -8,-8 z "/>
<path class="h" stroke="#67947b" d="M 0.5,0.5 H 15 l 6,4 3,0 6,-4 H 221.235 M 216.735,19.3 l 3.68,-2.1 M 2.697,50.303 a 7.5,7.5 0 0,1 -2.197,-5.303 V 0.5 "/>
<text class="t" x="10" y="13.5">set </text>
<rect class="r" stroke="#67947b" x="42.077" y="5" width="70.923" height="17" rx="4" ry="4"/>
<text class="e" x="47.077" y="13.5">Label2<tspan fill="#266643"> ▾</tspan></text>
<text class="t" x="118" y="13.5">.</text>
<rect class="r" stroke="#67947b" x="127.662" y="5" width="51.687" height="17" rx="4" ry="4"/>
<text class="e" x="132.662" y="13.5">Text<tspan fill="#266643"> ▾</tspan></text>
<text class="t" x="184.349" y="13.5"> to</text>
<g transform="translate(222.735,0)">
<path class="d" fill="#8f244b" transform="translate(1,1)" d="M 0,0 H 81.419 V 5 l -1.25,3.211 -2.75,-1.523 -2.75,-0.492 -1.25,6.305 1.25,6.305 2.75,-0.492 2.75,-1.523 1.25,3.211 v 2 V 32 l -1.25,3.211 -2.75,-1.523 -2.75,-0.492 -1.25,6.305 1.25,6.305 2.75,-0.492 2.75,-1.523 1.25,3.211 v 2 V 53 H 0 V 20 l -1.25,-3.211 -2.75,1.523 -2.75,0.492 -1.25,-6.305 1.25,-6.305 2.75,0.492 2.75,1.523 1.25,-3.211 z "/>
<path fill="#b32d5e" d="M 0,0 H 81.419 V 5 l -1.25,3.211 -2.75,-1.523 -2.75,-0.492 -1.25,6.305 1.25,6.305 2.75,-0.492 2.75,-1.523 1.25,3.211 v 2 V 32 l -1.25,3.211 -2.75,-1.523 -2.75,-0.492 -1.25,6.305 1.25,6.305 2.75,-0.492 2.75,-1.523 1.25,3.211 v 2 V 53 H 0 V 20 l -1.25,-3.211 -2.75,1.523 -2.75,0.492 -1.25,-6.305 1.25,-6.305 2.75,0.492 2.75,1.523 1.25,-3.211 z "/>
<path class="h" stroke="#ca6c8e" d="M 0.5,0.5 H 80.919 M 76.419,19.3 l 3.68,-2.1 M 76.419,46.3 l 3.68,-2.1 M 0.5,52.5 V 20 v -1.5 m -7.36,-0.5 l -0.76,-5.5 0.76,-5.5 m 7.36,1 V 0.5 "/>
<g class="ic" transform="translate(10,5)">
<rect class="is" rx="4" ry="4" width="16" height="16"/><path class="iy" d="m4.203,7.296 0,1.368 -0.92,0.677 -0.11,0.41 0.9,1.559 0.41,0.11 1.043,-0.457 1.187,0.683 0.127,1.134 0.3,0.3 1.8,0 0.3,-0.299 0.127,-1.138 1.185,-0.682 1.046,0.458 0.409,-0.11 0.9,-1.559 -0.11,-0.41 -0.92,-0.677 0,-1.366 0.92,-0.677 0.11,-0.41 -0.9,-1.559 -0.409,-0.109 -1.046,0.458 -1.185,-0.682 -0.127,-1.138 -0.3,-0.299 -1.8,0 -0.3,0.3 -0.126,1.135 -1.187,0.682 -1.043,-0.457 -0.41,0.11 -0.899,1.559 0.108,0.409z"/><circle class="is" r="2.7" cx="8" cy="8"/>
</g>
<text class="t" x="37" y="13.5">join</text>
<g transform="translate(82.419,0)">
<path class="d" fill="#8f244b" transform="translate(1,1)" d="M 0,0 H 235.516 V 22 V 26 H 0 V 20 l -1.25,-3.211 -2.75,1.523 -2.75,0.492 -1.25,-6.305 1.25,-6.305 2.75,0.492 2.75,1.523 1.25,-3.211 z "/>
<path fill="#b32d5e" d="M 0,0 H 235.516 V 22 V 26 H 0 V 20 l -1.25,-3.211 -2.75,1.523 -2.75,0.492 -1.25,-6.305 1.25,-6.305 2.75,0.492 2.75,1.523 1.25,-3.211 z "/>
<path class="h" stroke="#ca6c8e" d="M 0.5,0.5 H 235.016 M 0.5,25.5 V 20 v -1.5 m -7.36,-0.5 l -0.76,-5.5 0.76,-5.5 m 7.36,1 V 0.5 "/>
<text class="t" x="10" y="13.5">“</text>
<rect class="r" x="22.598" y="5" width="190.32" height="17" rx="4" ry="4"/>
<text class="e" x="27.598" y="13.5">Density from Extension: </text>
<text class="t" x="217.918" y="13.5">”</text>
</g>
<g transform="translate(82.419,27)">
<path class="d" fill="#367a5a" transform="translate(1,1)" d="M 0,0 H 189.56 V 22 V 26 H 0 V 20 l -1.25,-3.211 -2.75,1.523 -2.75,0.492 -1.25,-6.305 1.25,-6.305 2.75,0.492 2.75,1.523 1.25,-3.211 z "/>
<path fill="#439970" d="M 0,0 H 189.56 V 22 V 26 H 0 V 20 l -1.25,-3.211 -2.75,1.523 -2.75,0.492 -1.25,-6.305 1.25,-6.305 2.75,0.492 2.75,1.523 1.25,-3.211 z "/>
<path class="h" stroke="#7bb89b" d="M 0.5,0.5 H 189.06 M 0.5,25.5 V 20 v -1.5 m -7.36,-0.5 l -0.76,-5.5 0.76,-5.5 m 7.36,1 V 0.5 "/>
<rect class="r" stroke="#7bb89b" x="5" y="5" width="87.115" height="17" rx="4" ry="4"/>
<text class="e" x="10" y="13.5">Density1<tspan fill="#439970"> ▾</tspan></text>
<text class="t" x="97.115" y="13.5">.</text>
<rect class="r" stroke="#7bb89b" x="106.777" y="5" width="77.783" height="17" rx="4" ry="4"/>
<text class="e" x="111.777" y="13.5">Density<tspan fill="#439970"> ▾</tspan></text>
</g>
</g>
</g>
</g>
<g transform="translate(0,278)">
<path class="d" fill="#1e5236" transform="translate(1,1)" d="M 0,0 H 15 l 6,4 3,0 6,-4 H 339.77 V 5 l -1.25,3.211 -2.75,-1.523 -2.75,-0.492 -1.25,6.305 1.25,6.305 2.75,-0.492 2.75,-1.523 1.25,3.211 v 2 V 26 H 29.5 l -6,4 -3,0 -6,-4 H 8 a 8,8 0 0,1 -8,-8 z "/>
<path fill="#266643" d="M 0,0 H 15 l 6,4 3,0 6,-4 H 339.77 V 5 l -1.25,3.211 -2.75,-1.523 -2.75,-0.492 -1.25,6.305 1.25,6.305 2.75,-0.492 2.75,-1.523 1.25,3.211 v 2 V 26 H 29.5 l -6,4 -3,0 -6,-4 H 8 a 8,8 0 0,1 -8,-8 z "/>
<path class="h" stroke="#67947b" d="M 0.5,0.5 H 15 l 6,4 3,0 6,-4 H 339.27 M 334.77,19.3 l 3.68,-2.1 M 2.697,23.303 a 7.5,7.5 0 0,1 -2.197,-5.303 V 0.5 "/>
<text class="t" x="10" y="13.5">set </text>
<rect class="r" stroke="#67947b" x="42.077" y="5" width="85.188" height="17" rx="4" ry="4"/>
<text class="e" x="47.077" y="13.5">Canvas1<tspan fill="#266643"> ▾</tspan></text>
<text class="t" x="132.266" y="13.5">.</text>
<rect class="r" stroke="#67947b" x="141.928" y="5" width="155.456" height="17" rx="4" ry="4"/>
<text class="e" x="146.928" y="13.5">BackgroundImage<tspan fill="#266643"> ▾</tspan></text>
<text class="t" x="302.384" y="13.5"> to</text>
<g transform="translate(340.77,0)">
<path class="d" fill="#8f244b" transform="translate(1,1)" d="M 0,0 H 59.359 V 22 V 26 H 0 V 20 l -1.25,-3.211 -2.75,1.523 -2.75,0.492 -1.25,-6.305 1.25,-6.305 2.75,0.492 2.75,1.523 1.25,-3.211 z "/>
<path fill="#b32d5e" d="M 0,0 H 59.359 V 22 V 26 H 0 V 20 l -1.25,-3.211 -2.75,1.523 -2.75,0.492 -1.25,-6.305 1.25,-6.305 2.75,0.492 2.75,1.523 1.25,-3.211 z "/>
<path class="h" stroke="#ca6c8e" d="M 0.5,0.5 H 58.859 M 0.5,25.5 V 20 v -1.5 m -7.36,-0.5 l -0.76,-5.5 0.76,-5.5 m 7.36,1 V 0.5 "/>
<text class="t" x="10" y="13.5">“</text>
<rect class="r" x="22.598" y="5" width="14.162" height="17" rx="4" ry="4"/>
<text class="e" x="27.598" y="13.5"> </text>
<text class="t" x="41.76" y="13.5">”</text>
</g>
</g>
</g>
</g>
</svg>
</body></html>
